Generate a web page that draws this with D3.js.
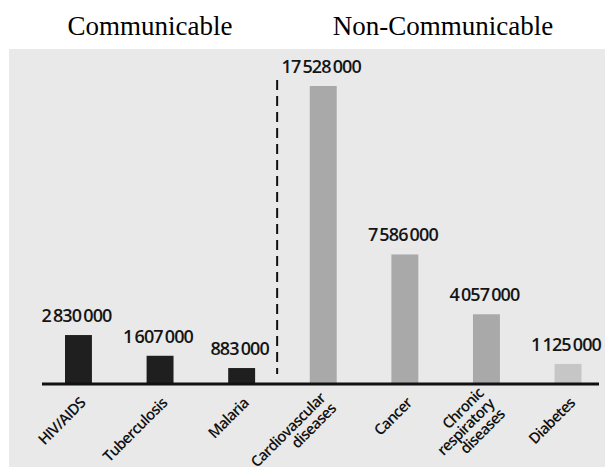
<!DOCTYPE html>
<html>
<head>
<meta charset="utf-8">
<script src="https://cdn.jsdelivr.net/npm/d3@7"></script>
<style>
  body { margin: 0; background: #fff; }
  svg { display: block; }
</style>
</head>
<body>
<div id="chart"></div>
<script>
// deaths by cause
const causes = ["HIV/AIDS", "Tuberculosis", "Malaria", "Cardiovascular diseases", "Cancer", "Chronic respiratory diseases", "Diabetes"]
const deaths = [2830000, 1607000, 883000, 17528000, 7586000, 4057000, 1125000]
const groups = ["Communicable", "Communicable", "Communicable", "Non-Communicable", "Non-Communicable", "Non-Communicable", "Non-Communicable"]
const labelLines = [["HIV/AIDS"], ["Tuberculosis"], ["Malaria"], ["Cardiovascular", "diseases"], ["Cancer"], ["Chronic", "respiratory", "diseases"], ["Diabetes"]]
const groupTitles = ["Communicable", "Non-Communicable"]

const width = 605
const height = 471
const panel = {left: 9, top: 49, right: 605, bottom: 467}

const barFill = new Map([
    ["Communicable", "#1f1f1f"],
    ["Non-Communicable", "#a9a9a9"]
])

const fmt = d3.formatLocale({decimal: ".", thousands: "\u2009", grouping: [3], currency: ["", ""]}).format(",")

const data = causes.map((c, i) => ({cause: c, value: deaths[i], group: groups[i], lines: labelLines[i]}))

const svg = d3.select("#chart")
    .append("svg")
    .attr("width", width)
    .attr("height", height)

svg.append("rect")
    .attr("x", panel.left)
    .attr("y", panel.top)
    .attr("width", panel.right - panel.left)
    .attr("height", panel.bottom - panel.top)
    .attr("fill", "#e9e9e9")

const x = d3.scaleBand()
    .domain(causes)
    .range([24.2, 622.3])
    .paddingInner(0.67)
    .paddingOuter(0.5)

const y = d3.scaleLinear()
    .domain([0, d3.max(deaths)])
    .range([383, 86])

// titles over the two groups
const titleX = d3.scaleOrdinal()
    .domain(groupTitles)
    .range([150, 443])

svg.selectAll("text.title")
    .data(groupTitles)
    .join("text")
    .attr("class", "title")
    .attr("x", d => titleX(d))
    .attr("y", 35)
    .attr("text-anchor", "middle")
    .attr("font-family", "'Liberation Serif', 'Times New Roman', serif")
    .attr("font-size", 27)
    .attr("fill", "#000")
    .text(d => d)

// bars
svg.selectAll("rect.bar")
    .data(data)
    .join("rect")
    .attr("class", "bar")
    .attr("x", d => x(d.cause))
    .attr("y", d => y(d.value))
    .attr("width", x.bandwidth())
    .attr("height", d => y(0) - y(d.value))
    .attr("fill", d => d.cause === "Diabetes" ? "#c6c6c6" : barFill.get(d.group))

// value labels
svg.selectAll("text.value")
    .data(data)
    .join("text")
    .attr("class", "value")
    .attr("x", d => x(d.cause) + x.bandwidth() / 2 - 2)
    .attr("y", d => y(d.value) - 13)
    .attr("text-anchor", "middle")
    .attr("font-family", "'Open Sans', sans-serif")
    .attr("font-size", 18)
    .attr("font-weight", 600)
    .attr("letter-spacing", -0.9)
    .attr("fill", "#151515")
    .text(d => fmt(d.value))

// divider between the two groups
const firstNonComm = causes[groups.indexOf("Non-Communicable")]
const divX = x(firstNonComm) - x.step() * 0.4

svg.append("line")
    .attr("x1", divX)
    .attr("x2", divX)
    .attr("y1", y(d3.max(deaths)) - 6)
    .attr("y2", y(0) - 9)
    .attr("stroke", "#111")
    .attr("stroke-width", 2)
    .attr("stroke-dasharray", "10,6")

// baseline
svg.append("line")
    .attr("x1", 42)
    .attr("x2", 599)
    .attr("y1", y(0) + 1)
    .attr("y2", y(0) + 1)
    .attr("stroke", "#111")
    .attr("stroke-width", 3)

// rotated category labels, multi-line ones nudged up so they stay inside
const lineH = 15
const catLabels = svg.selectAll("g.cat")
    .data(data)
    .join("g")
    .attr("class", "cat")
    .attr("transform", d => `translate(${x(d.cause) + x.bandwidth() / 2 + 8}, ${y(0) + 21}) rotate(-45)`)

catLabels.selectAll("text")
    .data(d => d.lines.map((t, i) => ({t, i, n: d.lines.length})))
    .join("text")
    .attr("x", 0)
    .attr("y", d => d.i * lineH - (d.n - 1) * 7)
    .attr("text-anchor", "end")
    .attr("font-family", "'Open Sans', sans-serif")
    .attr("font-size", 15)
    .attr("font-weight", 600)
    .attr("letter-spacing", -0.7)
    .attr("fill", "#111")
    .text(d => d.t)
</script>
</body>
</html>
